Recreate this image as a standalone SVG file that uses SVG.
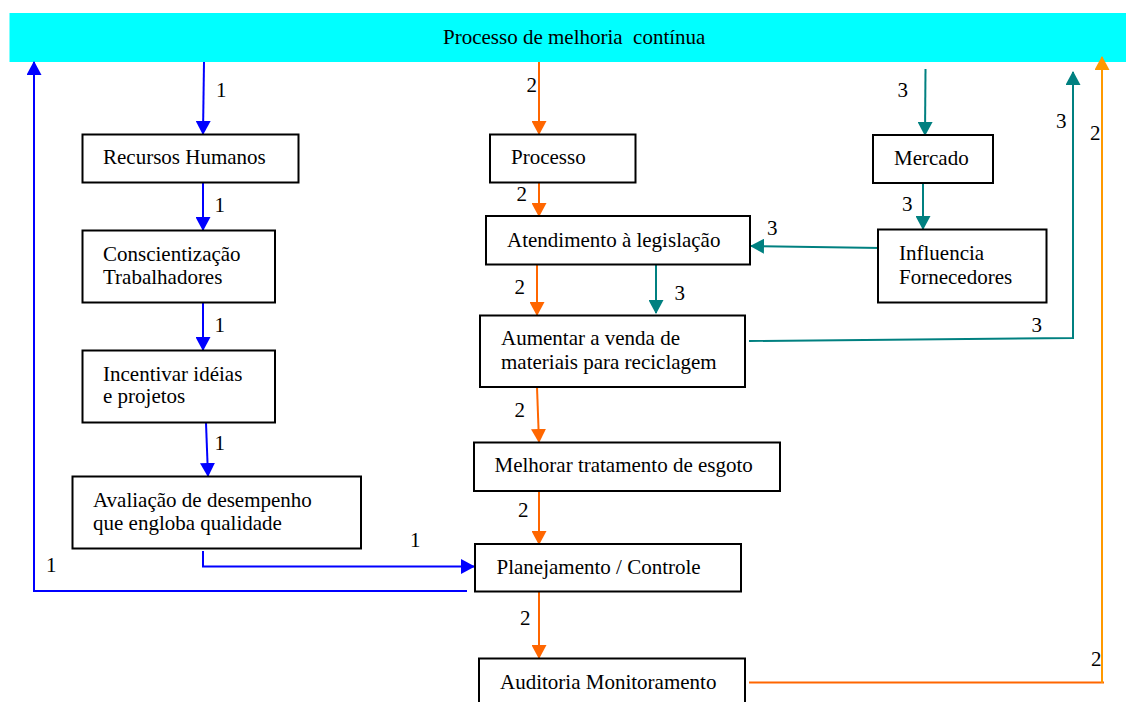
<svg xmlns="http://www.w3.org/2000/svg" width="1126" height="702" viewBox="0 0 1126 702">
  <style>
    text { font-family: "Liberation Serif", "Times New Roman", serif; font-size: 21px; fill: #000; }
    .box { fill: #fff; stroke: #000; stroke-width: 2; }
    .c1 { fill: none; stroke: #0000FF; stroke-width: 2; }
    .c2 { fill: none; stroke: #FF6600; stroke-width: 2; }
    .c2b { fill: none; stroke: #FF9900; stroke-width: 2; }
    .c3 { fill: none; stroke: #008080; stroke-width: 2; }
  </style>
  <defs>
    <marker id="ah-blue" viewBox="0 0 14 15" refX="13" refY="7.5" markerWidth="14" markerHeight="15" markerUnits="userSpaceOnUse" orient="auto">
      <path d="M0,0 L14,7.5 L0,15 z" fill="#0000FF"/>
    </marker>
    <marker id="ah-orange" viewBox="0 0 14 15" refX="13" refY="7.5" markerWidth="14" markerHeight="15" markerUnits="userSpaceOnUse" orient="auto">
      <path d="M0,0 L14,7.5 L0,15 z" fill="#FF6600"/>
    </marker>
    <marker id="ah-amber" viewBox="0 0 14 15" refX="13" refY="7.5" markerWidth="14" markerHeight="15" markerUnits="userSpaceOnUse" orient="auto">
      <path d="M0,0 L14,7.5 L0,15 z" fill="#FF9900"/>
    </marker>
    <marker id="ah-teal" viewBox="0 0 14 15" refX="13" refY="7.5" markerWidth="14" markerHeight="15" markerUnits="userSpaceOnUse" orient="auto">
      <path d="M0,0 L14,7.5 L0,15 z" fill="#008080"/>
    </marker>
  </defs>

  <rect width="1126" height="702" fill="#fff"/>

  <!-- top banner -->
  <g id="melhoria">
    <rect x="9.5" y="13" width="1117" height="49" fill="#00FFFF"/>
    <text x="443" y="44" style="white-space:pre" xml:space="preserve">Processo de melhoria  contínua</text>
  </g>

  <!-- connectors -->
  <g id="connectors">
    <!-- path 1 (blue) -->
    <path class="c1" d="M204,62 L203,134" marker-end="url(#ah-blue)"/>
    <path class="c1" d="M203,183 L203,230" marker-end="url(#ah-blue)"/>
    <path class="c1" d="M203,303 L203,350" marker-end="url(#ah-blue)"/>
    <path class="c1" d="M206,423 L208,476" marker-end="url(#ah-blue)"/>
    <path class="c1" d="M203,551 L203,566.5 L474,566.5" marker-end="url(#ah-blue)"/>
    <path class="c1" d="M467,591 L34,591 L34,62" marker-end="url(#ah-blue)"/>

    <!-- path 2 (orange) -->
    <path class="c2" d="M539,62 L539,134" marker-end="url(#ah-orange)"/>
    <path class="c2" d="M539,183 L539,216" marker-end="url(#ah-orange)"/>
    <path class="c2" d="M537,265 L537,315" marker-end="url(#ah-orange)"/>
    <path class="c2" d="M537,387 L539,442" marker-end="url(#ah-orange)"/>
    <path class="c2" d="M539,491 L539,544" marker-end="url(#ah-orange)"/>
    <path class="c2" d="M539,592 L539,658" marker-end="url(#ah-orange)"/>
    <path class="c2" d="M749,682.5 L1104,682.5"/>
    <path class="c2b" d="M1102,683 L1102,57" marker-end="url(#ah-amber)"/>

    <!-- path 3 (teal) -->
    <path class="c3" d="M925.5,69 L925,135" marker-end="url(#ah-teal)"/>
    <path class="c3" d="M923,183 L923,229" marker-end="url(#ah-teal)"/>
    <path class="c3" d="M881,248 L751,246" marker-end="url(#ah-teal)"/>
    <path class="c3" d="M656,265 L656,313" marker-end="url(#ah-teal)"/>
    <path class="c3" d="M749,341 L1073,338 L1073,72" marker-end="url(#ah-teal)"/>

    <!-- connector labels -->
    <text x="216" y="97">1</text>
    <text x="214.5" y="212">1</text>
    <text x="214.5" y="332">1</text>
    <text x="214.5" y="450">1</text>
    <text x="410" y="547">1</text>
    <text x="46" y="572">1</text>

    <text x="526.5" y="92">2</text>
    <text x="516.5" y="201">2</text>
    <text x="514.5" y="294">2</text>
    <text x="514.5" y="417">2</text>
    <text x="518" y="517">2</text>
    <text x="520" y="625">2</text>
    <text x="1091" y="666">2</text>
    <text x="1090" y="140">2</text>

    <text x="897.5" y="97">3</text>
    <text x="902" y="211">3</text>
    <text x="767" y="235">3</text>
    <text x="674.5" y="300">3</text>
    <text x="1031.5" y="332">3</text>
    <text x="1056" y="128">3</text>
  </g>

  <!-- left column -->
  <g id="recursos-humanos">
    <rect class="box" x="82.5" y="134.5" width="216" height="48"/>
    <text x="103" y="164">Recursos Humanos</text>
  </g>
  <g id="conscientizacao">
    <rect class="box" x="82.5" y="230.5" width="192.5" height="72"/>
    <text x="103" y="261">Conscientização</text>
    <text x="103" y="284">Trabalhadores</text>
  </g>
  <g id="incentivar">
    <rect class="box" x="82.5" y="350.5" width="192.5" height="72"/>
    <text x="103" y="381">Incentivar idéias</text>
    <text x="103" y="403">e projetos</text>
  </g>
  <g id="avaliacao">
    <rect class="box" x="72.5" y="476.5" width="288.5" height="72"/>
    <text x="93" y="507">Avaliação de desempenho</text>
    <text x="93" y="530">que engloba qualidade</text>
  </g>

  <!-- middle column -->
  <g id="processo">
    <rect class="box" x="490" y="134.5" width="145.5" height="48"/>
    <text x="511" y="164">Processo</text>
  </g>
  <g id="atendimento">
    <rect class="box" x="486" y="216" width="264" height="48.5"/>
    <text x="507" y="247">Atendimento à legislação</text>
  </g>
  <g id="aumentar-venda">
    <rect class="box" x="480" y="315.5" width="265" height="71.5"/>
    <text x="501" y="345">Aumentar a venda de</text>
    <text x="501" y="368.5">materiais para reciclagem</text>
  </g>
  <g id="melhorar-esgoto">
    <rect class="box" x="474" y="442.5" width="306" height="48.5"/>
    <text x="494.5" y="472">Melhorar tratamento de esgoto</text>
  </g>
  <g id="planejamento">
    <rect class="box" x="475" y="544" width="266" height="47.5"/>
    <text x="496.5" y="573.5">Planejamento / Controle</text>
  </g>
  <g id="auditoria">
    <rect class="box" x="479" y="658.5" width="266" height="55"/>
    <text x="500" y="688.5">Auditoria Monitoramento</text>
  </g>

  <!-- right column -->
  <g id="mercado">
    <rect class="box" x="873" y="135" width="120" height="48"/>
    <text x="894" y="165">Mercado</text>
  </g>
  <g id="fornecedores">
    <rect class="box" x="878" y="229.5" width="168.5" height="73"/>
    <text x="899" y="259.5">Influencia</text>
    <text x="899" y="283.5">Fornecedores</text>
  </g>
</svg>
